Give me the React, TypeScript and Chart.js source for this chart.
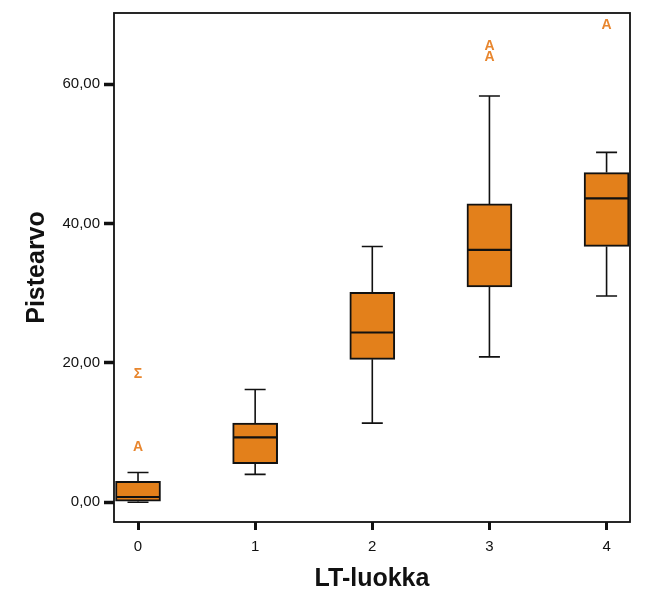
import React, { useEffect, useRef } from "react";
import { Chart, registerables } from "chart.js";

Chart.register(...registerables);

// ---- data ----
const categories = [0, 1, 2, 3, 4];
const whiskerLow = [0.0, 4.0, 11.35, 20.85, 29.6];
const q1 = [0.14, 5.53, 20.5, 30.9, 36.7];
const median = [0.75, 9.3, 24.35, 36.2, 43.6];
const q3 = [2.98, 11.35, 30.1, 42.8, 47.3];
const whiskerHigh = [4.26, 16.17, 36.7, 58.3, 50.2];

const outlierGroups = [0, 0, 3, 3, 4];
const outlierValues = [7.9, 18.4, 65.4, 63.8, 68.4];
const outlierMarks = ["A", "Σ", "A", "A", "A"];

const yTicks = [0, 20, 40, 60];
const xTitle = "LT-luokka";
const yTitle = "Pistearvo";

const BOX_FILL = "#E3801B";
const MARK_COLOR = "#E8862E";
const INK = "#111111";
const FONT = "'Liberation Sans', Arial, sans-serif";
const BOX_W = 45;
const CAP_W = 21;

const boxExtras = {
  id: "boxExtras",
  beforeDatasetsDraw(chart: any) {
    const { ctx, scales } = chart;
    const x = scales.x;
    const y = scales.y;
    ctx.save();
    ctx.strokeStyle = INK;
    ctx.lineWidth = 1.6;
    categories.forEach((c, i) => {
      const cx = x.getPixelForValue(c);
      const yh = y.getPixelForValue(whiskerHigh[i]);
      const yl = y.getPixelForValue(whiskerLow[i]);
      ctx.beginPath();
      ctx.moveTo(cx, y.getPixelForValue(q3[i]));
      ctx.lineTo(cx, yh);
      ctx.moveTo(cx, y.getPixelForValue(q1[i]));
      ctx.lineTo(cx, yl);
      ctx.moveTo(cx - CAP_W / 2, yh);
      ctx.lineTo(cx + CAP_W / 2, yh);
      ctx.moveTo(cx - CAP_W / 2, yl);
      ctx.lineTo(cx + CAP_W / 2, yl);
      ctx.stroke();
    });
    ctx.restore();
  },
  afterDatasetsDraw(chart: any) {
    const { ctx, scales } = chart;
    const x = scales.x;
    const y = scales.y;
    ctx.save();
    ctx.strokeStyle = INK;
    ctx.lineWidth = 2.2;
    categories.forEach((c, i) => {
      const cx = x.getPixelForValue(c);
      const ym = y.getPixelForValue(median[i]);
      ctx.beginPath();
      ctx.moveTo(cx - BOX_W / 2 + 1, ym);
      ctx.lineTo(cx + BOX_W / 2 - 1, ym);
      ctx.stroke();
    });
    ctx.fillStyle = MARK_COLOR;
    ctx.font = `bold 14px ${FONT}`;
    ctx.textAlign = "center";
    ctx.textBaseline = "middle";
    outlierValues.forEach((v, i) => {
      const px = x.getPixelForValue(outlierGroups[i]);
      const py = y.getPixelForValue(v);
      ctx.fillText(outlierMarks[i], px, py);
    });
    ctx.restore();
  },
  afterDraw(chart: any) {
    const { ctx, chartArea } = chart;
    ctx.save();
    ctx.strokeStyle = INK;
    ctx.lineWidth = 1.8;
    ctx.strokeRect(
      chartArea.left,
      chartArea.top,
      chartArea.right - chartArea.left,
      chartArea.bottom - chartArea.top
    );
    ctx.restore();
  },
};

export default function App() {
  const canvasRef = useRef<HTMLCanvasElement | null>(null);

  useEffect(() => {
    const canvas = canvasRef.current;
    if (!canvas) return;
    const chart = new Chart(canvas, {
      type: "bar",
      data: {
        datasets: [
          {
            data: categories.map((c, i) => ({ x: c, y: [q1[i], q3[i]] })) as any,
            backgroundColor: BOX_FILL,
            borderColor: INK,
            borderWidth: 2,
            borderSkipped: false,
            barThickness: BOX_W,
          },
        ],
      },
      options: {
        animation: false,
        responsive: false,
        devicePixelRatio: 1,
        layout: { padding: { top: 7, right: 23, left: 0, bottom: 0 } },
        plugins: {
          legend: { display: false },
          tooltip: { enabled: false },
        },
        scales: {
          x: {
            type: "linear",
            min: -0.205,
            max: 4.2,
            offset: false,
            afterBuildTicks: (scale: any) => {
              scale.ticks = categories.map((v) => ({ value: v }));
            },
            afterFit: (scale: any) => {
              scale.height = 81;
            },
            grid: {
              display: true,
              offset: false,
              drawOnChartArea: false,
              drawTicks: true,
              tickLength: 8,
              tickWidth: 3,
              tickColor: INK,
            },
            border: { display: false },
            ticks: {
              padding: 8,
              color: INK,
              font: { family: FONT, size: 15 },
              maxRotation: 0,
              callback: (v: any) => String(v),
            },
            title: {
              display: true,
              text: xTitle,
              color: INK,
              font: { family: FONT, size: 25, weight: "bold" },
              padding: { top: 0, bottom: 9 },
            },
          },
          y: {
            type: "linear",
            min: -2.84,
            max: 70.2,
            afterBuildTicks: (scale: any) => {
              scale.ticks = yTicks.map((v) => ({ value: v }));
            },
            afterFit: (scale: any) => {
              scale.width = 114;
            },
            grid: {
              display: true,
              drawOnChartArea: false,
              drawTicks: true,
              tickLength: 10,
              tickWidth: 3.5,
              tickColor: INK,
            },
            border: { display: false },
            ticks: {
              padding: 4,
              color: INK,
              font: { family: FONT, size: 15 },
              callback: (v: any) => Number(v).toFixed(2).replace(".", ","),
            },
            title: {
              display: true,
              text: yTitle,
              color: INK,
              font: { family: FONT, size: 25, weight: "bold" },
              padding: { top: 22, bottom: 0 },
            },
          },
        },
      } as any,
      plugins: [boxExtras],
    });
    return () => chart.destroy();
  }, []);

  return (
    <div
      style={{
        position: "absolute",
        left: 0,
        top: 0,
        width: 653,
        height: 603,
        background: "#ffffff",
      }}
    >
      <canvas
        ref={canvasRef}
        width={653}
        height={603}
        style={{ width: 653, height: 603, display: "block" }}
      />
    </div>
  );
}
